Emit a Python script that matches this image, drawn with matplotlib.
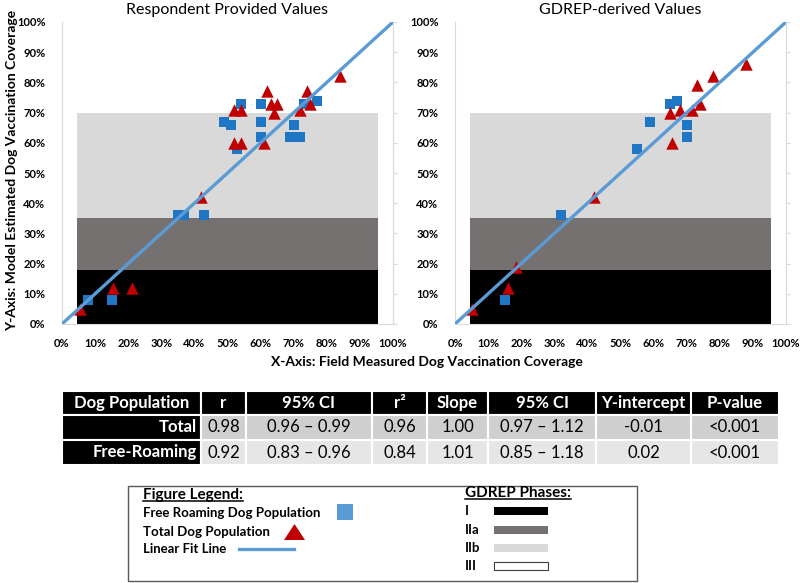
import matplotlib
matplotlib.use("Agg")
import matplotlib.pyplot as plt
from matplotlib.patches import Rectangle, Polygon
from matplotlib.lines import Line2D

plt.rcParams['font.family'] = ['Lato', 'DejaVu Sans']

# --- data ---
resp_free_x = [8, 15, 35, 37, 43, 49, 51, 53, 54, 60, 60, 60, 69, 70, 72, 73, 77]
resp_free_y = [8, 8, 36, 36, 36, 67, 66, 58, 73, 73, 67, 62, 62, 66, 62, 73, 74]
resp_total_x = [5.5, 15.5, 21, 42, 52, 54, 52, 54, 61, 62, 63, 65, 64, 72, 74, 75, 84]
resp_total_y = [5, 12, 12, 42, 71, 71, 60, 60, 60, 77, 73, 73, 70, 71, 77, 73, 82]

gdrep_free_x = [15, 32, 55, 59, 65, 67, 70, 70]
gdrep_free_y = [8, 36, 58, 67, 73, 74, 66, 62]
gdrep_total_x = [5, 16, 18.5, 42, 65, 65.5, 68, 71.5, 73, 74, 78, 88]
gdrep_total_y = [5, 12, 19, 42, 70, 60, 71, 71, 79, 73, 82, 86]

fit_x = [0, 100]
fit_y = [0, 100]

# GDREP phase bands (lower, upper) in % coverage
phase_names = ['I', 'IIa', 'IIb', 'III']
phase_low = [0, 18, 35]
phase_high = [18, 35, 70]
phase_colors = ['#000000', '#767171', '#d9d9d9', '#ffffff']

table_header = ['Dog Population', 'r', '95% CI', 'r²', 'Slope', '95% CI', 'Y-intercept', 'P-value']
row_total = ['Total', '0.98', '0.96 – 0.99', '0.96', '1.00', '0.97 – 1.12', '-0.01', '<0.001']
row_free = ['Free-Roaming', '0.92', '0.83 – 0.96', '0.84', '1.01', '0.85 – 1.18', '0.02', '<0.001']

blue_sq = '#1f76c5'
red_tri = '#c00000'
fit_col = '#5b9bd5'
axis_grey = '#d9d9d9'

W, H = 800, 583
fig = plt.figure(figsize=(W / 100, H / 100), dpi=100)

# pixel canvas for table and legend box
cv = fig.add_axes([0, 0, 1, 1])
cv.set_xlim(0, W)
cv.set_ylim(H, 0)
cv.axis('off')


def make_panel(left_px, title, fx, fy, tx, ty):
    ax = fig.add_axes([left_px / W, (H - 324) / H, 331 / W, 302 / H])
    for lo, hi, c in zip(phase_low, phase_high, phase_colors):
        ax.axhspan(lo, hi, xmin=0.045, xmax=0.955, color=c, lw=0, zorder=1)
    ax.scatter(fx, fy, marker='s', s=52, color=blue_sq, zorder=3, lw=0)
    ax.scatter(tx, ty, marker='^', s=80, color=red_tri, zorder=4, lw=0)
    ax.plot(fit_x, fit_y, color=fit_col, lw=2.4, zorder=5, solid_capstyle='butt')
    ax.set_xlim(0, 100)
    ax.set_ylim(0, 100)
    ticks = list(range(0, 101, 10))
    ax.set_xticks(ticks)
    ax.set_yticks(ticks)
    ax.set_xticklabels([f'{t}%' for t in ticks], fontweight='bold', fontsize=8)
    ax.set_yticklabels([f'{t}%' for t in ticks], fontweight='bold', fontsize=8)
    ax.tick_params(axis='x', length=0, pad=10)
    ax.tick_params(axis='y', left=False, right=True, labelleft=True, labelright=False,
                   length=3, color=axis_grey, pad=9)
    ax.spines['top'].set_visible(False)
    for sp in ['left', 'right', 'bottom']:
        ax.spines[sp].set_color(axis_grey)
    ax.set_facecolor('none')
    ax.set_title(title, fontsize=11.5, pad=6)
    return ax


ax1 = make_panel(62, 'Respondent Provided Values', resp_free_x, resp_free_y, resp_total_x, resp_total_y)
ax2 = make_panel(455, 'GDREP-derived Values', gdrep_free_x, gdrep_free_y, gdrep_total_x, gdrep_total_y)

cv.text(12, 170, 'Y-Axis: Model Estimated Dog Vaccination Coverage', rotation=90,
        ha='center', va='center', fontweight='bold', fontsize=10)
cv.text(427, 362, 'X-Axis: Field Measured Dog Vaccination Coverage',
        ha='center', va='center', fontweight='bold', fontsize=10)

# --- statistics table ---
col_edges = [62, 201, 246, 372, 427, 488, 596, 691, 779]
row_edges = [391, 415, 440, 465]
row_bg = [None, '#cfcfcf', '#e6e6e6']
for r, row in enumerate([table_header, row_total, row_free]):
    y0, y1 = row_edges[r], row_edges[r + 1]
    for c, val in enumerate(row):
        x0, x1 = col_edges[c], col_edges[c + 1]
        dark = (r == 0 or c == 0)
        bg = 'black' if dark else row_bg[r]
        cv.add_patch(Rectangle((x0, y0), x1 - x0, y1 - y0, facecolor=bg,
                               edgecolor='white', lw=1.5))
        if r > 0 and c == 0:
            cv.text(x1 - 4, (y0 + y1) / 2, val, ha='right', va='center',
                    color='white', fontweight='bold', fontsize=12)
        else:
            cv.text((x0 + x1) / 2, (y0 + y1) / 2, val, ha='center', va='center',
                    color='white' if dark else 'black',
                    fontweight='bold' if dark else 'normal', fontsize=12)

# --- legend box ---
cv.add_patch(Rectangle((128, 486), 509, 95, facecolor='white', edgecolor='#595959', lw=1))

t1 = cv.text(143, 495, 'Figure Legend:', ha='left', va='center', fontweight='bold', fontsize=11)
cv.text(143, 513, 'Free Roaming Dog Population', ha='left', va='center', fontweight='bold', fontsize=9.5)
cv.text(143, 531.5, 'Total Dog Population', ha='left', va='center', fontweight='bold', fontsize=9.5)
cv.text(143, 549, 'Linear Fit Line', ha='left', va='center', fontweight='bold', fontsize=9.5)
cv.add_patch(Rectangle((337, 504), 16, 16, facecolor=fit_col, edgecolor='none'))
cv.add_patch(Polygon([(284, 540), (305, 540), (294.5, 524)], closed=True,
                     facecolor=red_tri, edgecolor='none'))
cv.add_line(Line2D([239, 294], [549, 549], color=fit_col, lw=2.4))

t2 = cv.text(465, 493, 'GDREP Phases:', ha='left', va='center', fontweight='bold', fontsize=11)
phase_y = [511, 529.5, 548, 566]
for name, c, py in zip(phase_names, phase_colors, phase_y):
    cv.text(465, py, name, ha='left', va='center', fontweight='bold', fontsize=9.5)
    cv.add_patch(Rectangle((494, py - 4), 54, 8, facecolor=c,
                           edgecolor='#404040' if name == 'III' else 'none', lw=0.8))

# underline the two legend headings
fig.canvas.draw()
rend = fig.canvas.get_renderer()
for t in (t1, t2):
    bb = t.get_window_extent(rend).transformed(cv.transData.inverted())
    yy = max(bb.y0, bb.y1) - 1.5
    cv.add_line(Line2D([min(bb.x0, bb.x1), max(bb.x0, bb.x1)], [yy, yy], color='black', lw=1.1))

fig.savefig('out.png', dpi=100)
